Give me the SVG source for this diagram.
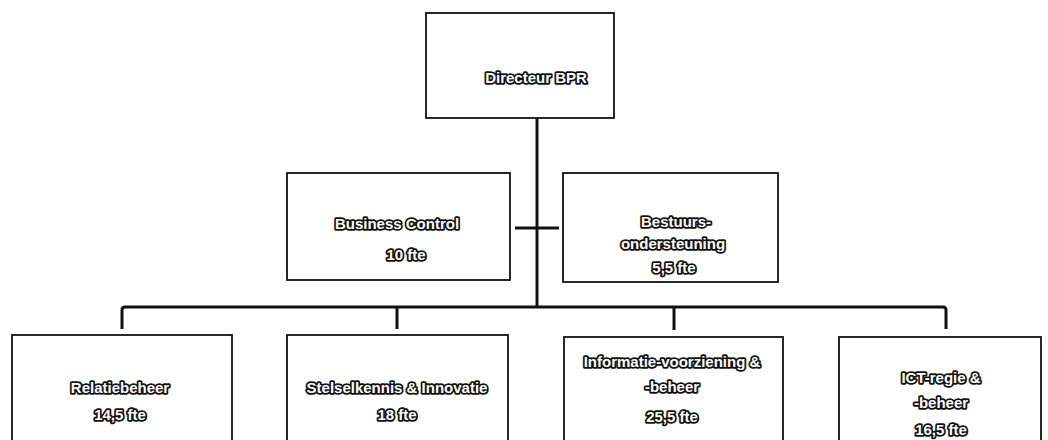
<svg xmlns="http://www.w3.org/2000/svg" width="1048" height="440" viewBox="0 0 1048 440">
<style>
.box{fill:#fff;stroke:#111;stroke-width:1.8}
.t{font-family:"Liberation Sans",Arial,sans-serif;font-weight:bold;font-size:15px;fill:#fff;stroke:#111;stroke-width:3.6;stroke-linejoin:round;paint-order:stroke;text-anchor:middle}
.c{fill:none;stroke:#111;stroke-width:3;stroke-linejoin:round}
</style>
<rect width="1048" height="440" fill="#fff"/>
<g id="connectors">
<path class="c" d="M537,118 V306"/>
<path class="c" d="M515,228 H559"/>
<path class="c" d="M122,329 V310 Q122,307 125,307 H943 Q946,307 946,310 V329"/>
<path class="c" d="M397,307 V329"/>
<path class="c" d="M674,307 V330"/>
</g>
<g id="directeur">
<rect class="box" x="426" y="13" width="188" height="105"/>
<text class="t" x="536" y="83">Directeur BPR</text>
</g>
<g id="business-control">
<rect class="box" x="287" y="173" width="223" height="107"/>
<text class="t" x="397" y="229">Business Control</text>
<text class="t" x="406" y="260">10 fte</text>
</g>
<g id="bestuursondersteuning">
<rect class="box" x="563" y="173" width="215" height="109"/>
<text class="t" x="676" y="227">Bestuurs-</text>
<text class="t" x="673" y="249">ondersteuning</text>
<text class="t" x="674" y="273">5,5 fte</text>
</g>
<g id="relatiebeheer">
<rect class="box" x="12" y="335" width="220" height="110"/>
<text class="t" x="120" y="393">Relatiebeheer</text>
<text class="t" x="120" y="420">14,5 fte</text>
</g>
<g id="stelselkennis">
<rect class="box" x="287" y="335" width="221" height="110"/>
<text class="t" x="397" y="393">Stelselkennis &amp; Innovatie</text>
<text class="t" x="397" y="420">18 fte</text>
</g>
<g id="informatievoorziening">
<rect class="box" x="564" y="337" width="219" height="110"/>
<text class="t" x="672" y="367">Informatie-voorziening &amp;</text>
<text class="t" x="672" y="392">-beheer</text>
<text class="t" x="672" y="422">25,5 fte</text>
</g>
<g id="ict-regie">
<rect class="box" x="839" y="337" width="202" height="110"/>
<text class="t" x="941" y="383">ICT-regie &amp;</text>
<text class="t" x="941" y="408">-beheer</text>
<text class="t" x="941" y="435">16,5 fte</text>
</g>
</svg>
